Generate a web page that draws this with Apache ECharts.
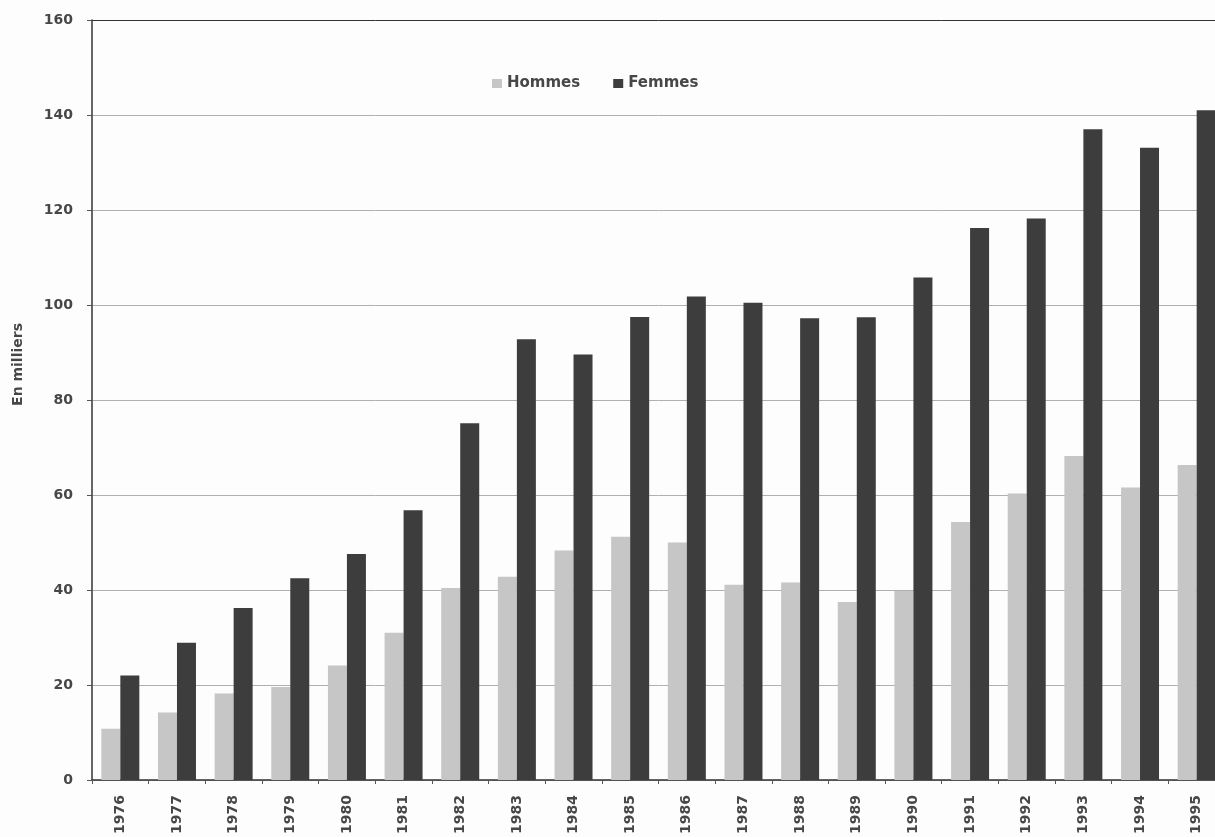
<!DOCTYPE html>
<html>
<head>
<meta charset="utf-8">
<script src="https://cdn.jsdelivr.net/npm/echarts@6/dist/echarts.min.js"></script>
<style>
  html, body { margin: 0; padding: 0; background: #fdfdfd; overflow: hidden; }
  /* la zone de tracé déborde légèrement à droite de la fenêtre */
  #chart { width: 1235px; height: 837px; }
</style>
</head>
<body>
<div id="chart"></div>
<script>
// Années
const years = ['1976','1977','1978','1979','1980','1981','1982','1983','1984','1985',
               '1986','1987','1988','1989','1990','1991','1992','1993','1994','1995'];
// Effectifs en milliers
const hommes = [10.8, 14.2, 18.2, 19.6, 24.1, 31.0, 40.4, 42.8, 48.3, 51.2,
                50.0, 41.1, 41.6, 37.5, 39.8, 54.3, 60.3, 68.2, 61.6, 66.3];
const femmes = [22.0, 28.9, 36.2, 42.5, 47.6, 56.8, 75.1, 92.8, 89.6, 97.5,
                101.8, 100.5, 97.2, 97.4, 105.8, 116.2, 118.2, 137.0, 133.1, 141.0];
const yTicks = [0, 20, 40, 60, 80, 100, 120, 140, 160];

const font = 'DejaVu Sans, Liberation Sans, sans-serif';
const textColor = '#474747';
const chart = echarts.init(document.getElementById('chart'), null, { renderer: 'canvas' });

// Quadrillage gris, ligne du haut (160) foncée
const gridColors = yTicks.map((v, i) => i === yTicks.length - 1 ? '#333' : '#b0b0b0');

chart.setOption({
  backgroundColor: '#fdfdfd',
  animation: false,
  textStyle: { fontFamily: font },
  legend: {
    top: 71,
    left: 487,
    itemGap: 33,
    itemWidth: 10,
    itemHeight: 9,
    icon: 'rect',
    textStyle: { fontFamily: font, fontWeight: 'bold', fontSize: 15, color: textColor },
    data: ['Hommes', 'Femmes']
  },
  grid: { left: 92, right: 10, top: 20, bottom: 57, containLabel: false },
  xAxis: {
    type: 'category',
    data: years,
    boundaryGap: true,
    axisLine: { lineStyle: { color: '#333', width: 1.5 } },
    axisTick: { show: true, alignWithLabel: false, length: 4, lineStyle: { color: '#555' } },
    axisLabel: { rotate: 90, margin: 15, fontSize: 14, fontWeight: 'bold', color: textColor, fontFamily: font }
  },
  yAxis: {
    type: 'value',
    min: 0,
    max: 160,
    interval: 20,
    axisLine: { show: true, lineStyle: { color: '#333', width: 1.5 } },
    axisTick: { show: true, length: 5, lineStyle: { color: '#555' } },
    axisLabel: { margin: 19, fontSize: 14, fontWeight: 'bold', color: textColor, fontFamily: font },
    splitLine: { show: true, lineStyle: { color: gridColors, width: 1 } }
  },
  graphic: [{
    type: 'text',
    left: 11,
    top: 323,
    rotation: Math.PI / 2,
    style: { text: 'En milliers', fontSize: 14, fontWeight: 'bold', fill: textColor, fontFamily: font }
  }],
  series: [
    {
      name: 'Hommes',
      type: 'bar',
      data: hommes,
      barWidth: 19,
      barGap: '0%',
      itemStyle: { color: '#c6c6c6' }
    },
    {
      name: 'Femmes',
      type: 'bar',
      data: femmes,
      barWidth: 19,
      barGap: '0%',
      itemStyle: { color: '#3d3d3d' }
    }
  ]
});
</script>
</body>
</html>
